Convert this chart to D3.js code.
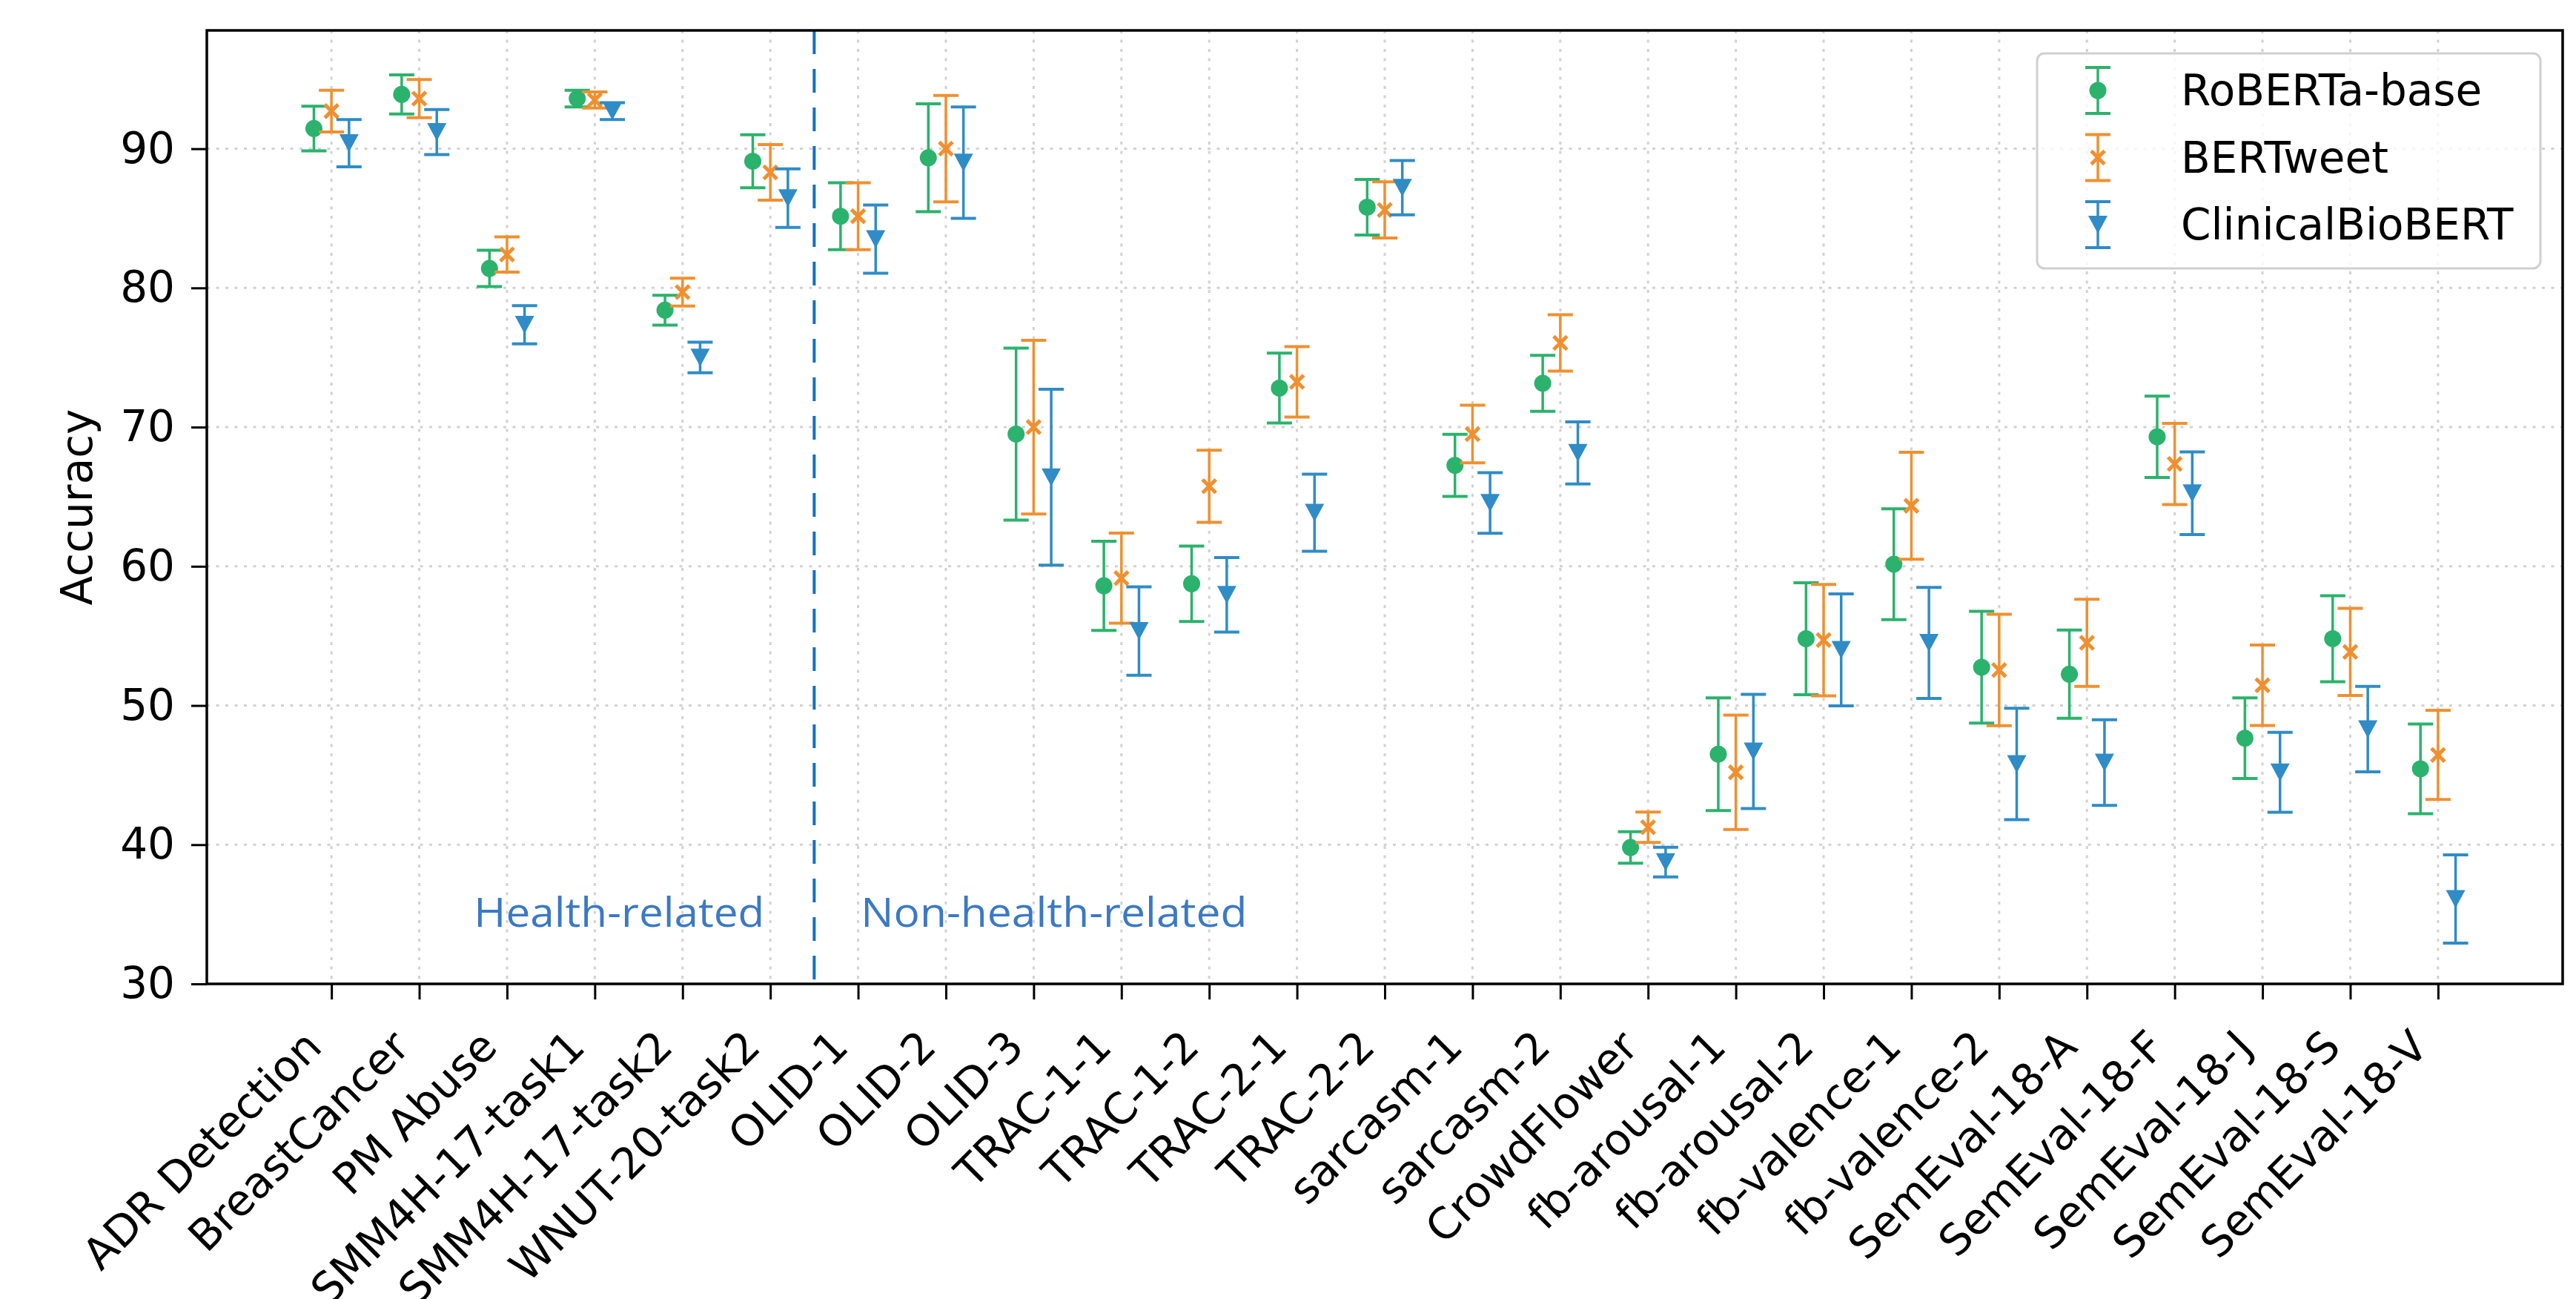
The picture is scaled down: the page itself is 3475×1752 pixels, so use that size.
<!DOCTYPE html>
<html>
<head>
<meta charset="utf-8">
<script src="https://cdn.jsdelivr.net/npm/d3@7"></script>
<style>
    body { margin: 0; background: #fff; }
    text { font-family: "DejaVu Sans", sans-serif; }
</style>
</head>
<body>
<script>
//datasets along the x axis
var categories = ["ADR Detection", "BreastCancer", "PM Abuse", "SMM4H-17-task1", "SMM4H-17-task2", "WNUT-20-task2",
    "OLID-1", "OLID-2", "OLID-3", "TRAC-1-1", "TRAC-1-2", "TRAC-2-1", "TRAC-2-2", "sarcasm-1", "sarcasm-2",
    "CrowdFlower", "fb-arousal-1", "fb-arousal-2", "fb-valence-1", "fb-valence-2",
    "SemEval-18-A", "SemEval-18-F", "SemEval-18-J", "SemEval-18-S", "SemEval-18-V"];

var seriesNames = ["RoBERTa-base", "BERTweet", "ClinicalBioBERT"];

//mean accuracy per dataset
var robertaMean = [91.45, 93.9, 81.4, 93.6, 78.4, 89.1, 85.15, 89.35, 69.5, 58.6, 58.75, 72.8, 85.8, 67.25, 73.15,
    39.8, 46.5, 54.8, 60.15, 52.75, 52.25, 69.3, 47.65, 54.8, 45.45];
var bertweetMean = [92.7, 93.6, 82.4, 93.5, 79.7, 88.3, 85.15, 90.0, 70.0, 59.15, 65.75, 73.25, 85.6, 69.5, 76.05,
    41.25, 45.2, 54.7, 64.35, 52.55, 54.5, 67.35, 51.45, 53.85, 46.45];
var clinicalMean = [90.4, 91.2, 77.35, 92.7, 75.0, 86.45, 83.5, 89.0, 66.4, 55.35, 57.95, 63.85, 87.2, 64.55, 68.15,
    38.75, 46.7, 54.0, 54.5, 45.8, 45.9, 65.25, 45.2, 48.3, 36.1];

//error bar half widths
var robertaErr = [1.6, 1.4, 1.3, 0.6, 1.07, 1.9, 2.4, 3.88, 6.18, 3.2, 2.71, 2.51, 2.0, 2.23, 2.01,
    1.13, 4.05, 4.02, 3.98, 4.02, 3.17, 2.92, 2.9, 3.09, 3.22];
var bertweetErr = [1.5, 1.37, 1.27, 0.58, 1.0, 2.0, 2.4, 3.82, 6.24, 3.23, 2.59, 2.53, 2.02, 2.07, 2.02,
    1.09, 4.11, 4.0, 3.84, 4.0, 3.13, 2.92, 2.89, 3.13, 3.2];
var clinicalErr = [1.7, 1.62, 1.37, 0.6, 1.1, 2.1, 2.45, 4.0, 6.32, 3.18, 2.68, 2.77, 1.95, 2.18, 2.23,
    1.07, 4.1, 4.02, 3.99, 4.0, 3.07, 2.97, 2.87, 3.07, 3.17];

var yTicks = [30, 40, 50, 60, 70, 80, 90];
var groupLabels = ["Health-related", "Non-health-related"];
var splitAt = 5.5; //between WNUT-20-task2 and OLID-1

var colors = ["#2bb26c", "#ef9030", "#2f8cc6"];
var offsets = [-0.2, 0, 0.2];
var shapes = ["circle", "cross", "triangle"];

window.onload = setChart();

function setChart(){
    var width = 3475,
        height = 1752,
        margin = {top: 41, right: 18, bottom: 425, left: 279},
        innerWidth = width - margin.left - margin.right,
        innerHeight = height - margin.top - margin.bottom;

    var svg = d3.select("body")
        .append("svg")
        .attr("width", width)
        .attr("height", height);

    var plot = svg.append("g")
        .attr("transform", "translate(" + margin.left + "," + margin.top + ")");

    var x = d3.scaleLinear()
        .domain([-1.42, categories.length - 1 + 1.42])
        .range([0, innerWidth]);

    var y = d3.scaleLinear()
        .domain([30, 98.5])
        .range([innerHeight, 0]);

    //dotted grid
    plot.selectAll(".hgrid")
        .data(yTicks.slice(1))
        .enter()
        .append("line")
        .attr("class", "hgrid")
        .attr("x1", 0)
        .attr("x2", innerWidth)
        .attr("y1", function(d){ return y(d); })
        .attr("y2", function(d){ return y(d); })
        .style("stroke", "#d2d2d2")
        .style("stroke-width", 3)
        .style("stroke-dasharray", "4,8.5");

    plot.selectAll(".vgrid")
        .data(categories)
        .enter()
        .append("line")
        .attr("class", "vgrid")
        .attr("x1", function(d, i){ return x(i); })
        .attr("x2", function(d, i){ return x(i); })
        .attr("y1", 0)
        .attr("y2", innerHeight)
        .style("stroke", "#d2d2d2")
        .style("stroke-width", 3)
        .style("stroke-dasharray", "4,8.5");

    //separator between health and non-health datasets
    plot.append("line")
        .attr("x1", x(splitAt))
        .attr("x2", x(splitAt))
        .attr("y1", 0)
        .attr("y2", innerHeight)
        .style("stroke", "#1170c4")
        .style("stroke-width", 4)
        .style("stroke-dasharray", "32,20");

    plot.append("text")
        .attr("x", x(splitAt) - 67)
        .attr("y", y(34.1))
        .attr("text-anchor", "end")
        .attr("textLength", 392)
        .attr("lengthAdjust", "spacingAndGlyphs")
        .style("font-family", "'Open Sans', sans-serif")
        .style("font-size", "55px")
        .style("fill", "#3b79c3")
        .text(groupLabels[0]);

    plot.append("text")
        .attr("x", x(splitAt) + 63)
        .attr("y", y(34.1))
        .attr("textLength", 521)
        .attr("lengthAdjust", "spacingAndGlyphs")
        .style("font-family", "'Open Sans', sans-serif")
        .style("font-size", "55px")
        .style("fill", "#3b79c3")
        .text(groupLabels[1]);

    //build one array per model
    var means = [robertaMean, bertweetMean, clinicalMean];
    var errs = [robertaErr, bertweetErr, clinicalErr];

    seriesNames.forEach(function(name, s){
        var rows = categories.map(function(c, i){
            return {i: i, mean: means[s][i], err: errs[s][i]};
        });
        var g = plot.append("g").attr("class", "series s" + s);

        var bars = g.selectAll(".err")
            .data(rows)
            .enter()
            .append("g")
            .attr("class", "err")
            .attr("transform", function(d){ return "translate(" + x(d.i + offsets[s]) + ",0)"; });

        bars.append("line")
            .attr("y1", function(d){ return y(d.mean + d.err); })
            .attr("y2", function(d){ return y(d.mean - d.err); })
            .style("stroke", colors[s])
            .style("stroke-width", 3.5);

        bars.append("line")
            .attr("x1", -17).attr("x2", 17)
            .attr("y1", function(d){ return y(d.mean + d.err); })
            .attr("y2", function(d){ return y(d.mean + d.err); })
            .style("stroke", colors[s])
            .style("stroke-width", 4);

        bars.append("line")
            .attr("x1", -17).attr("x2", 17)
            .attr("y1", function(d){ return y(d.mean - d.err); })
            .attr("y2", function(d){ return y(d.mean - d.err); })
            .style("stroke", colors[s])
            .style("stroke-width", 4);

        bars.each(function(d){
            drawMarker(d3.select(this), shapes[s], colors[s], y(d.mean));
        });
    });

    //y axis
    var yAxis = d3.axisLeft(y)
        .tickValues(yTicks)
        .tickSize(21)
        .tickPadding(22);

    var yg = plot.append("g")
        .attr("class", "axis")
        .call(yAxis);
    yg.select(".domain").remove();
    yg.selectAll("line").style("stroke", "#000").style("stroke-width", 3);
    yg.selectAll("text")
        .style("font-family", "'DejaVu Sans', sans-serif")
        .style("font-size", "58px")
        .style("fill", "#000");

    //x axis with rotated dataset names
    var xAxis = d3.axisBottom(x)
        .tickValues(d3.range(categories.length))
        .tickFormat(function(d){ return categories[d]; })
        .tickSize(21);

    var xg = plot.append("g")
        .attr("class", "axis")
        .attr("transform", "translate(0," + innerHeight + ")")
        .call(xAxis);
    xg.select(".domain").remove();
    xg.selectAll("line").style("stroke", "#000").style("stroke-width", 3);
    xg.selectAll("text")
        .attr("x", -11)
        .attr("y", 88)
        .attr("dy", null)
        .attr("text-anchor", "end")
        .attr("transform", "rotate(-45,-11,88)")
        .style("font-family", "'DejaVu Sans', sans-serif")
        .style("font-size", "58px")
        .style("fill", "#000");

    //axis label
    svg.append("text")
        .attr("transform", "translate(104," + (margin.top + innerHeight / 2) + ") rotate(-90)")
        .attr("text-anchor", "middle")
        .attr("dy", "0.35em")
        .style("font-size", "58px")
        .text("Accuracy");

    //frame
    plot.append("rect")
        .attr("width", innerWidth)
        .attr("height", innerHeight)
        .style("fill", "none")
        .style("stroke", "#000")
        .style("stroke-width", 3.5);

    setLegend(svg);
};

function drawMarker(sel, shape, color, cy){
    if (shape == "circle"){
        sel.append("circle")
            .attr("cx", 0)
            .attr("cy", cy)
            .attr("r", 11.5)
            .style("fill", color);
    } else if (shape == "cross"){
        sel.append("path")
            .attr("d", "M-9,-9L9,9M-9,9L9,-9")
            .attr("transform", "translate(0," + cy + ")")
            .style("stroke", color)
            .style("stroke-width", 5)
            .style("fill", "none");
    } else {
        sel.append("path")
            .attr("d", "M-13,-12L13,-12L0,12Z")
            .attr("transform", "translate(0," + cy + ")")
            .style("fill", color);
    };
};

function setLegend(svg){
    var legend = svg.append("g").attr("class", "legend");

    legend.append("rect")
        .attr("x", 2748)
        .attr("y", 72)
        .attr("width", 679)
        .attr("height", 290)
        .attr("rx", 10)
        .style("fill", "#fff")
        .style("fill-opacity", 0.8)
        .style("stroke", "#d0d0d0")
        .style("stroke-width", 3);

    var items = legend.selectAll(".item")
        .data(seriesNames)
        .enter()
        .append("g")
        .attr("class", "item")
        .attr("transform", function(d, i){ return "translate(2830," + (122 + i * 90.5) + ")"; });

    items.each(function(d, i){
        var g = d3.select(this);
        g.append("line").attr("y1", -31).attr("y2", 31)
            .style("stroke", colors[i]).style("stroke-width", 3.5);
        g.append("line").attr("x1", -17).attr("x2", 17).attr("y1", -31).attr("y2", -31)
            .style("stroke", colors[i]).style("stroke-width", 4);
        g.append("line").attr("x1", -17).attr("x2", 17).attr("y1", 31).attr("y2", 31)
            .style("stroke", colors[i]).style("stroke-width", 4);
        drawMarker(g, shapes[i], colors[i], 0);
    });

    items.append("text")
        .attr("x", 112)
        .attr("dy", "0.35em")
        .style("font-size", "58px")
        .text(function(d){ return d; });
};
</script>
</body>
</html>
